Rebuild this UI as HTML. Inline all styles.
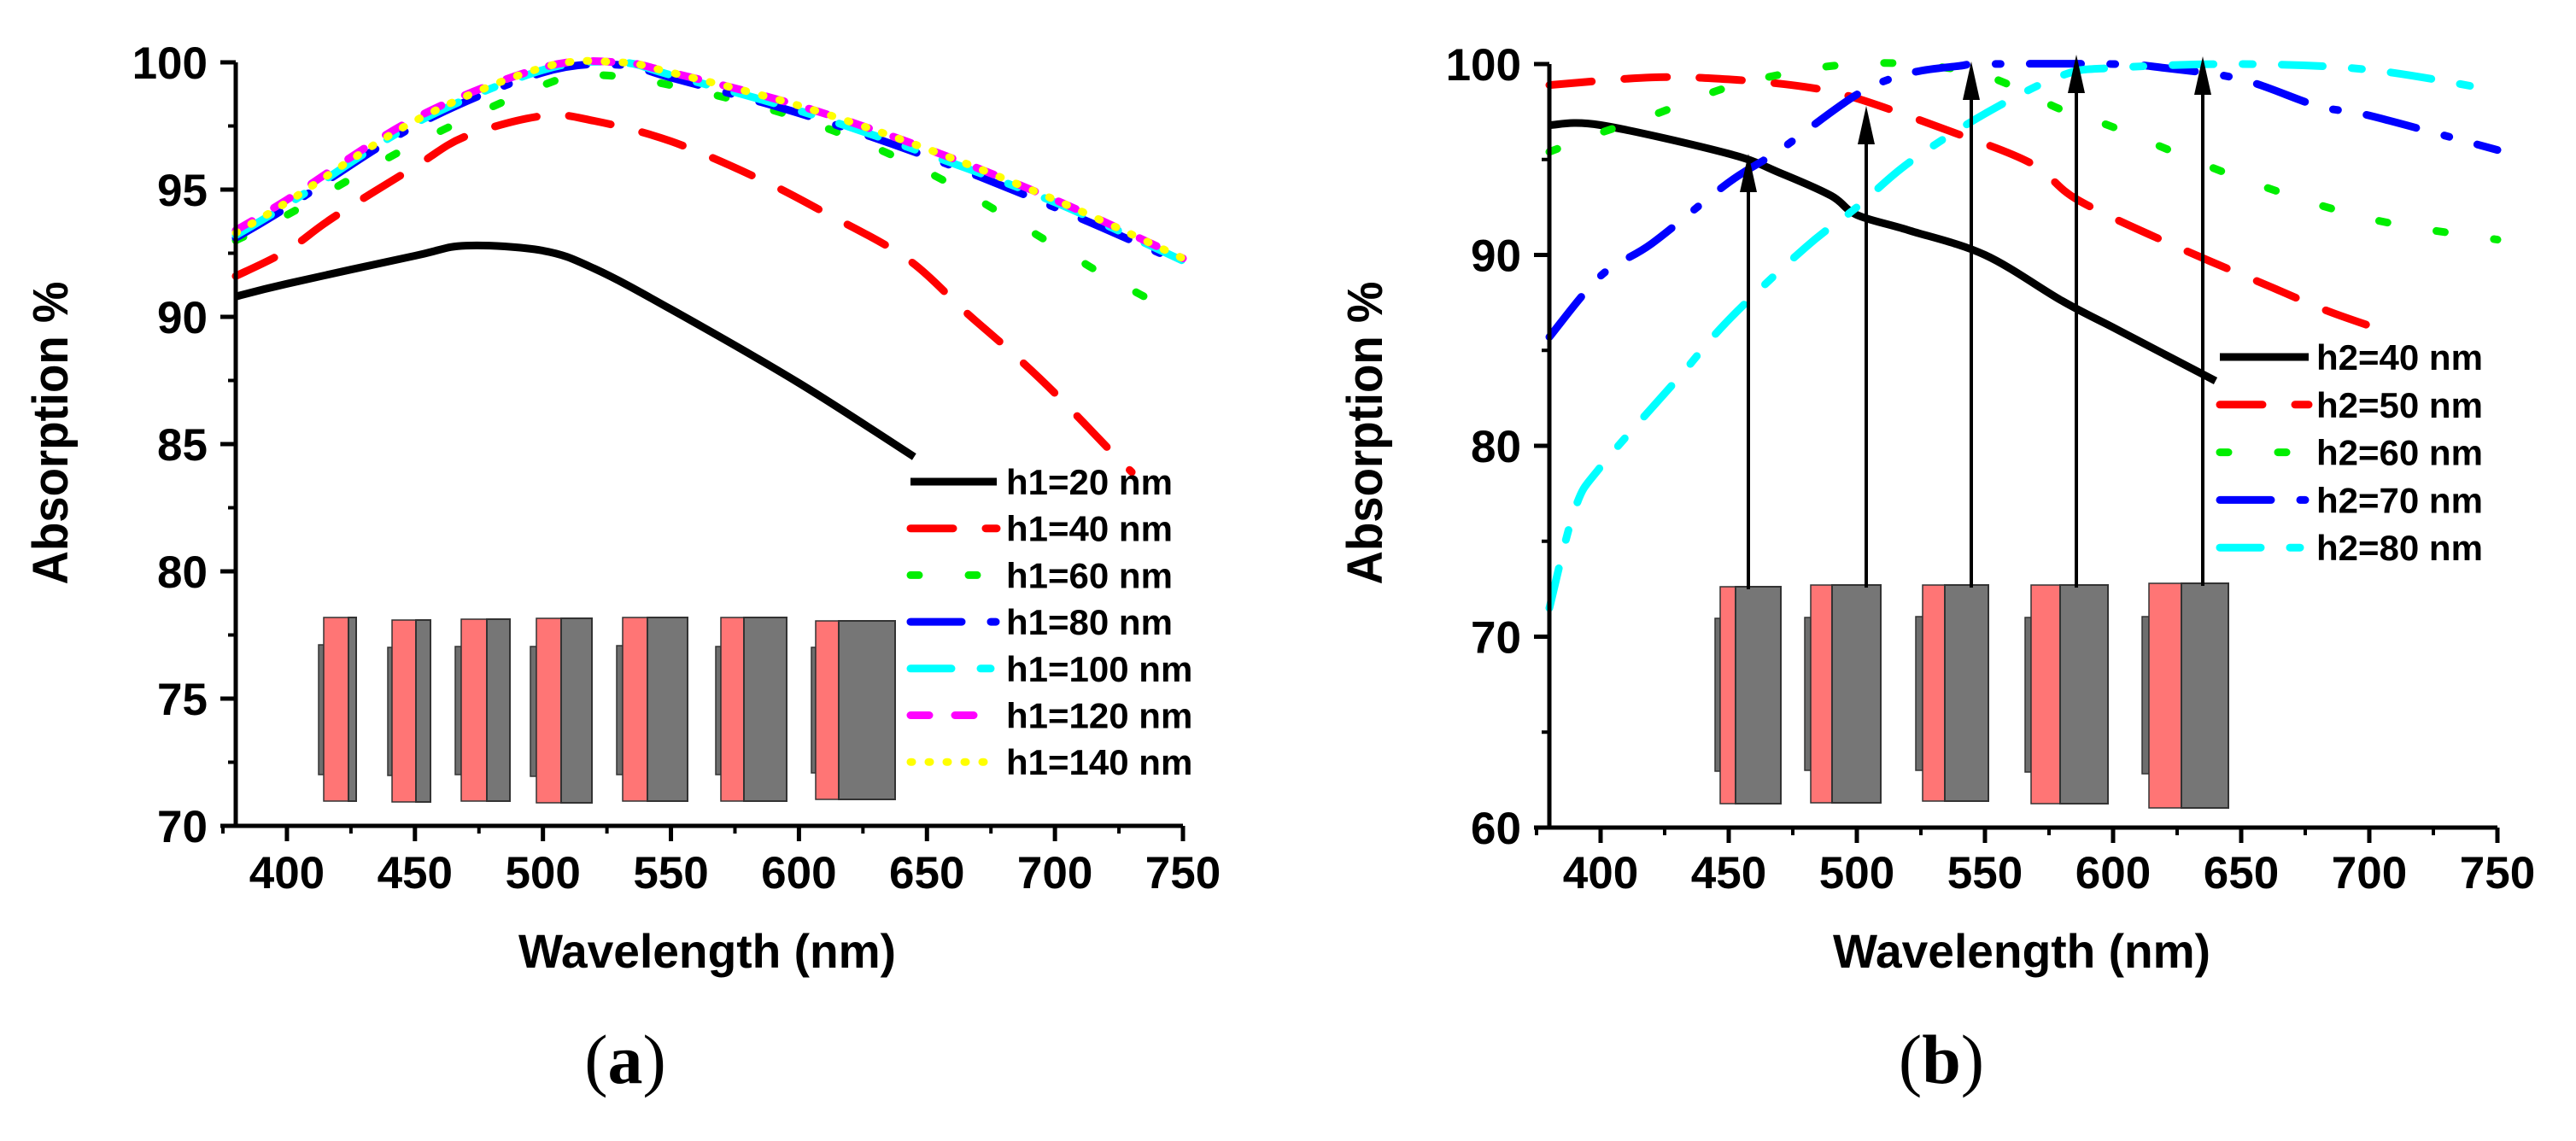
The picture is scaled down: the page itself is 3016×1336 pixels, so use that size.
<!DOCTYPE html>
<html><head><meta charset="utf-8">
<style>
html,body{margin:0;padding:0;background:#fff;}
svg{display:block;}
text{font-family:"Liberation Sans",Arial,sans-serif;font-weight:bold;fill:#000;}
.serif{font-family:"Liberation Serif",serif;font-weight:normal;}
</style></head>
<body>
<svg id="fig" xmlns="http://www.w3.org/2000/svg" width="3016" height="1336" viewBox="0 0 3016 1336">
<rect x="0" y="0" width="3016" height="1336" fill="#fff"/>
<g id="panelA"></g>
<g id="panelB"></g>
</svg>
<script>
// ---------- Panel (a) data ----------
const aWavelengths = [380,400,420,450,470,500,520,530,550,585,600,610,642,650,665,682,700,720,723,750];
const aH20 = [[380,90.8],[400,91.3],[450,92.4],[470,92.8],[500,92.6],[520,91.9],[550,90.3],[600,87.4],[645,84.5]];
const aH40 = [[380,91.6],[400,92.6],[418,93.9],[450,95.9],[470,97.1],[500,97.9],[520,97.7],[550,96.9],[585,95.4],[610,94.1],[642,92.3],[665,90.2],[682,88.7],[700,87.0],[723,84.6],[730,83.9]];
const aH60 = [[380,93.0],[400,94.0],[450,96.8],[500,99.1],[520,99.5],[550,99.1],[600,97.8],[650,95.7],[700,92.8],[720,91.6],[750,90.0]];
const aH80 = [[380,93.1],[400,94.3],[450,97.5],[500,99.6],[530,99.9],[550,99.4],[600,98.0],[650,96.3],[700,94.3],[750,92.1]];
const aH100 = [[380,93.2],[400,94.4],[450,97.6],[500,99.7],[530,100],[550,99.5],[600,98.1],[650,96.4],[700,94.5],[750,92.2]];
const aH120 = [[380,93.4],[400,94.6],[450,97.8],[500,99.8],[530,100],[550,99.6],[600,98.3],[650,96.6],[700,94.6],[750,92.3]];
const aH140 = [[380,93.3],[400,94.5],[450,97.7],[500,99.8],[530,100],[550,99.6],[600,98.3],[650,96.6],[700,94.6],[750,92.3]];
const aXTicks = [400,450,500,550,600,650,700,750];
const aYTicks = [70,75,80,85,90,95,100];
const aLegend = ["h1=20 nm","h1=40 nm","h1=60 nm","h1=80 nm","h1=100 nm","h1=120 nm","h1=140 nm"];

// ---------- Panel (b) data ----------
const bH40 = [[380,96.8],[400,96.8],[450,95.3],[470,94.3],[490,93.1],[500,92.1],[520,91.3],[550,90.0],[580,87.6],[600,86.2],[620,84.8],[640,83.4]];
const bH50 = [[380,98.9],[420,99.3],[450,99.2],[480,98.8],[500,98.2],[536,96.5],[568,94.8],[586,92.9],[622,90.6],[662,88.3],[683,87.1],[702,86.2]];
const bH60 = [[380,95.4],[400,96.4],[420,97.3],[450,98.8],[480,99.7],[500,100],[520,100],[550,99.4],[580,97.6],[600,96.7],[650,94.0],[700,91.9],[750,90.8]];
const bH70 = [[380,85.7],[400,88.9],[420,90.6],[450,93.8],[470,95.5],[500,98.4],[520,99.5],[540,99.9],[550,100],[600,100],[620,99.8],[650,99.2],[680,97.8],[700,97.3],[750,95.5]];
const bH80 = [[380,71.5],[390,76.7],[400,78.9],[430,83.5],[450,86.6],[480,90.4],[500,92.5],[520,94.8],[550,97.4],[580,99.4],[600,99.8],[650,100],[700,99.7],[750,98.6]];
const bXTicks = [400,450,500,550,600,650,700,750];
const bYTicks = [60,70,80,90,100];
const bLegend = ["h2=40 nm","h2=50 nm","h2=60 nm","h2=70 nm","h2=80 nm"];

const NS = "http://www.w3.org/2000/svg";
function mk(parent, tag, attrs, txt){
  const e = document.createElementNS(NS, tag);
  for (const k in attrs) e.setAttribute(k, attrs[k]);
  if (txt !== undefined) e.textContent = txt;
  parent.appendChild(e);
  return e;
}
function smoothPath(pts){
  let d = "M" + pts[0][0].toFixed(1) + "," + pts[0][1].toFixed(1);
  for (let i=0;i<pts.length-1;i++){
    const p0 = pts[Math.max(0,i-1)], p1 = pts[i], p2 = pts[i+1], p3 = pts[Math.min(pts.length-1,i+2)];
    const c1x = p1[0] + (p2[0]-p0[0])/6, c1y = p1[1] + (p2[1]-p0[1])/6;
    const c2x = p2[0] - (p3[0]-p1[0])/6, c2y = p2[1] - (p3[1]-p1[1])/6;
    d += " C" + c1x.toFixed(1)+","+c1y.toFixed(1)+" "+c2x.toFixed(1)+","+c2y.toFixed(1)+" "+p2[0].toFixed(1)+","+p2[1].toFixed(1);
  }
  return d;
}

const styles = {
  black:{stroke:"#000", dash:null, cap:"butt"},
  red:{stroke:"#ff0000", dash:"50 38", cap:"round"},
  green:{stroke:"#00ee00", dash:"10 58", cap:"round"},
  blue:{stroke:"#0000ff", dash:"60 34 6 34", cap:"round"},
  cyan:{stroke:"#00ffff", dash:"48 34 12 34", cap:"round"},
  magenta:{stroke:"#ff00ff", dash:"22 30", cap:"round"},
  yellow:{stroke:"#ffff00", dash:"2 19", cap:"round"}
};

function drawPanel(g, cfg){
  const X = v => cfg.x0 + (v - cfg.xmin) * (cfg.x1 - cfg.x0) / (cfg.xmax - cfg.xmin);
  const Y = v => cfg.y0 + (v - cfg.ymin) * (cfg.y1 - cfg.y0) / (cfg.ymax - cfg.ymin);

  // insets
  const ig = mk(g, "g", {});
  
  
  cfg.insets.forEach((s, i) => {
    const sg = mk(ig, "g", {});
    
    
    mk(sg, "rect", {x:s[0], y:s[5], width:s[1]-s[0], height:s[6]-s[5], fill:"#6e6e6e", stroke:"#333", "stroke-width":1.5});
    mk(sg, "rect", {x:s[1], y:s[3], width:s[2]-s[1], height:s[4]-s[3], fill:"#ff7575", stroke:"#333", "stroke-width":1.5});
    mk(sg, "rect", {x:s[2], y:s[3], width:s[7]-s[2], height:s[4]-s[3], fill:"#767676", stroke:"#333", "stroke-width":2});
  });

  // series
  cfg.series.forEach((s, i) => {
    const st = styles[s.style];
    const pts = s.data.map(p => [X(p[0]), Y(p[1])]);
    const p = mk(g, "path", {d:smoothPath(pts), fill:"none", stroke:st.stroke, "stroke-width":9, "stroke-linecap":st.cap, "stroke-linejoin":"round"});
    if (st.dash) p.setAttribute("stroke-dasharray", st.dash);
    
    
  });

  // arrows
  if (cfg.arrows) {
    cfg.arrows.forEach((a, i) => {
      const ag = mk(g, "g", {});
      
      
      mk(ag, "line", {x1:a[0], y1:a[2], x2:a[0], y2:a[1]+30, stroke:"#000", "stroke-width":4});
      mk(ag, "polygon", {points:(a[0]-10)+","+(a[1]+45)+" "+(a[0]+10)+","+(a[1]+45)+" "+a[0]+","+a[1], fill:"#000"});
    });
  }

  // axes
  const ax = mk(g, "path", {d:"M"+cfg.x0+","+(cfg.y1)+" L"+cfg.x0+","+cfg.y0+" L"+cfg.x1+","+cfg.y0, fill:"none", stroke:"#000", "stroke-width":5});
  
  

  cfg.yTicks.forEach((t, i) => {
    const y = Y(t);
    mk(g, "line", {x1:cfg.x0-18, y1:y, x2:cfg.x0, y2:y, stroke:"#000", "stroke-width":5});
    if (i < cfg.yTicks.length-1) {
      const ym = Y((t + cfg.yTicks[i+1]) / 2);
      mk(g, "line", {x1:cfg.x0-9, y1:ym, x2:cfg.x0, y2:ym, stroke:"#000", "stroke-width":4});
    }
    const lb = mk(g, "text", {x:cfg.x0-33, y:y+19, "text-anchor":"end", "font-size":53}, String(t));
    
    
  });
  cfg.xTicks.forEach((t, i) => {
    const x = X(t);
    mk(g, "line", {x1:x, y1:cfg.y0, x2:x, y2:cfg.y0+18, stroke:"#000", "stroke-width":5});
    const xm = X(t - 25);
    mk(g, "line", {x1:xm, y1:cfg.y0, x2:xm, y2:cfg.y0+9, stroke:"#000", "stroke-width":4});
    const lb = mk(g, "text", {x:x, y:1040, "text-anchor":"middle", "font-size":53}, String(t));
    
    
  });

  const xt = mk(g, "text", {x:cfg.xTitleX, y:1133, "text-anchor":"middle", "font-size":56, textLength:442, lengthAdjust:"spacingAndGlyphs"}, "Wavelength (nm)");
  
  
  const yt = mk(g, "text", {x:0, y:0, "text-anchor":"middle", "font-size":58, textLength:355, lengthAdjust:"spacingAndGlyphs", transform:"translate("+(cfg.yTitleX+21)+",507) rotate(-90)"}, "Absorption %");
  
  

  const cap = mk(g, "text", {x:cfg.capX, y:1268, "text-anchor":"middle", "font-size":82, "class":"serif"});
  mk(cap, "tspan", {}, "(");
  mk(cap, "tspan", {"font-weight":"bold"}, cfg.cap);
  mk(cap, "tspan", {}, ")");
  
  

  // legend
  const lg = mk(g, "g", {});
  
  
  cfg.series.forEach((s, i) => {
    const st = styles[s.style];
    const y = cfg.legY + i*cfg.legDy;
    const eg = mk(lg, "g", {});
    
    
    const ln = mk(eg, "line", {x1:cfg.legX0+4, y1:y, x2:cfg.legX1, y2:y, stroke:st.stroke, "stroke-width":9, "stroke-linecap":st.cap});
    if (st.dash) ln.setAttribute("stroke-dasharray", st.dash);
    mk(eg, "text", {x:cfg.legTX, y:y+15, "font-size":42}, cfg.legend[i]);
  });
}

drawPanel(document.getElementById("panelA"), {
  x0:276, x1:1385, xmin:380, xmax:750, y0:967, y1:73, ymin:70, ymax:100,
  xTicks:aXTicks, yTicks:aYTicks, xTitleX:828, yTitleX:58, capX:732, cap:"a",
  legend:aLegend, legX0:1062, legX1:1167, legTX:1178, legY:564, legDy:54.7,
  series:[
    {name:"h1-20", style:"black", data:aH20},
    {name:"h1-40", style:"red", data:aH40},
    {name:"h1-60", style:"green", data:aH60},
    {name:"h1-80", style:"blue", data:aH80},
    {name:"h1-100", style:"cyan", data:aH100},
    {name:"h1-120", style:"magenta", data:aH120},
    {name:"h1-140", style:"yellow", data:aH140}
  ],
  // [barX, pinkX, grayX, top, bottom, barTop, barBottom, right]
  insets:[
    [373,379,408,723,938,755,907,417],
    [454,459,487,726,939,758,908,504],
    [533,540,570,725,938,757,907,597],
    [621,628,657,724,940,757,909,693],
    [722,729,758,723,938,756,907,805],
    [838,844,871,723,938,757,907,921],
    [950,955,982,727,936,758,905,1048]
  ]
});

drawPanel(document.getElementById("panelB"), {
  x0:1814, x1:2924, xmin:380, xmax:750, y0:969, y1:75, ymin:60, ymax:100,
  xTicks:bXTicks, yTicks:bYTicks, xTitleX:2367, yTitleX:1597, capX:2273, cap:"b",
  legend:bLegend, legX0:2595, legX1:2703, legTX:2712, legY:418, legDy:55.8,
  series:[
    {name:"h2-40", style:"black", data:bH40},
    {name:"h2-50", style:"red", data:bH50},
    {name:"h2-60", style:"green", data:bH60},
    {name:"h2-70", style:"blue", data:bH70},
    {name:"h2-80", style:"cyan", data:bH80}
  ],
  insets:[
    [2008,2014,2032,687,941,724,903,2085],
    [2113,2120,2145,685,940,723,902,2202],
    [2243,2251,2277,685,938,722,902,2328],
    [2371,2378,2412,685,941,723,904,2468],
    [2508,2516,2554,683,946,722,906,2609]
  ],
  // [x, tipY, bottomY]
  arrows:[[2047,180,690],[2185,124,688],[2308,72,688],[2431,64,688],[2579,66,686]]
});
</script>
</body></html>
